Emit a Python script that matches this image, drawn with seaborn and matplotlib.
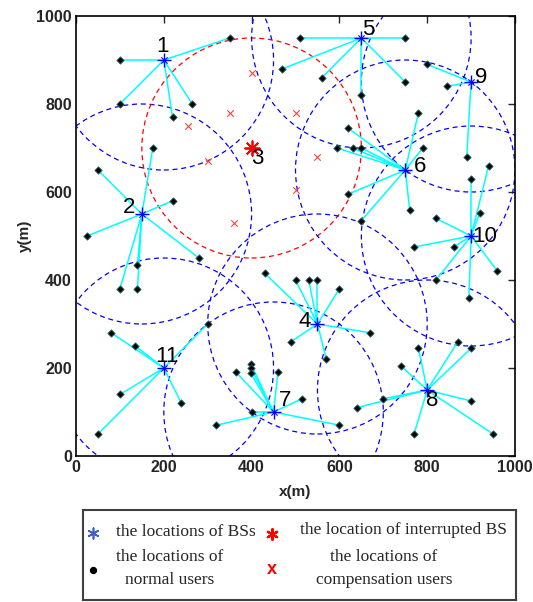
import numpy as np
import pandas as pd
import matplotlib
matplotlib.use('Agg')
import matplotlib.pyplot as plt
import matplotlib.patches as patches
import seaborn as sns

# estações base (BS 3 é a interrompida)
bs_id = [1, 2, 3, 4, 5, 6, 7, 8, 9, 10, 11]
bs_x = [200, 150, 400, 550, 650, 750, 450, 800, 900, 900, 200]
bs_y = [900, 550, 700, 300, 950, 650, 100, 150, 850, 500, 200]
bs_interrompida = 3
raio = 250

# usuários normais e a BS que os atende
user_bs = [1]*5 + [2]*8 + [4]*8 + [5]*6 + [6]*9 + [7]*9 + [8]*9 + [9]*3 + [10]*9 + [11]*6
user_x = [100, 100, 220, 265, 350,
          175, 50, 220, 25, 140, 100, 140, 280,
          430, 500, 530, 550, 600, 490, 570, 670,
          510, 750, 470, 560, 750, 650,
          620, 595, 630, 650, 780, 790, 620, 650, 760,
          398, 398, 398, 365, 460, 515, 400, 320, 600,
          780, 740, 870, 900, 900, 950, 770, 700, 640,
          800, 845, 890,
          770, 860, 960, 895, 820, 940, 900, 920, 820,
          80, 135, 100, 50, 240, 300]
user_y = [900, 800, 770, 800, 950,
          700, 650, 580, 500, 435, 380, 380, 450,
          415, 400, 400, 400, 380, 260, 220, 280,
          950, 950, 880, 860, 850, 820,
          745, 700, 700, 700, 780, 700, 595, 535, 560,
          210, 200, 188, 190, 190, 130, 100, 70, 70,
          245, 205, 260, 245, 125, 50, 50, 130, 110,
          890, 840, 680,
          475, 475, 420, 360, 400, 660, 630, 552, 540,
          280, 250, 140, 50, 120, 300]

# usuários de compensação
comp_x = [400, 350, 255, 300, 360, 500, 550, 500]
comp_y = [870, 780, 750, 670, 530, 780, 680, 605]

bs = pd.DataFrame({"id": bs_id, "x": bs_x, "y": bs_y})
users = pd.DataFrame({"bs": user_bs, "x": user_x, "y": user_y})
users = users.merge(bs.rename(columns={"id": "bs", "x": "bx", "y": "by"}), on="bs")

sns.set_style("white")
plt.rcParams['font.family'] = ['Liberation Sans', 'DejaVu Sans']

fig = plt.figure(figsize=(5.33, 6.02), dpi=100)
ax = fig.add_axes([76/533, 1 - 456/602, 439/533, 440/602])

dash = (0, (4, 3))
for _, b in bs.iterrows():
    cor = 'red' if b["id"] == bs_interrompida else 'blue'
    ax.add_patch(patches.Circle((b["x"], b["y"]), raio, fill=False, edgecolor=cor,
                                linestyle=dash, linewidth=0.9, zorder=1))

for _, u in users.iterrows():
    ax.plot([u["bx"], u["x"]], [u["by"], u["y"]], color='cyan', lw=1.1, zorder=2)

sns.scatterplot(data=users, x="x", y="y", marker='D', s=14, color='black',
                edgecolor='#2a6a6a', linewidth=0.6, ax=ax, zorder=4)
sns.scatterplot(x=comp_x, y=comp_y, marker='x', s=22, color='#ff4040',
                linewidth=0.8, ax=ax, zorder=4)

normais = bs[bs["id"] != bs_interrompida]
ax.scatter(normais["x"], normais["y"], marker='+', s=90, color='blue', linewidth=1, zorder=5)
ax.scatter(normais["x"], normais["y"], marker='x', s=20, color='blue', linewidth=0.8, zorder=5)
caida = bs[bs["id"] == bs_interrompida]
ax.scatter(caida["x"], caida["y"], marker=(8, 2, 0), s=110, color='red', linewidth=1.3, zorder=5)

# rótulos das BSs
desloc = {1: (-2, 30), 2: (-29, 14), 3: (12, -25), 4: (-28, 5), 5: (15, 20), 6: (34, 9),
          7: (26, 25), 8: (11, -25), 9: (23, 11), 10: (32, -2), 11: (7, 27)}
for _, b in bs.iterrows():
    dx, dy = desloc[b["id"]]
    ax.text(b["x"] + dx, b["y"] + dy, str(b["id"]), fontsize=16, ha='center', va='center',
            color='black', zorder=6)

ax.set_xlim(0, 1000)
ax.set_ylim(0, 1000)
ticks = [0, 200, 400, 600, 800, 1000]
ax.set_xticks(ticks)
ax.set_yticks(ticks)
ax.tick_params(direction='in', top=True, right=True, length=5, width=1, pad=3)
for lab in ax.get_xticklabels() + ax.get_yticklabels():
    lab.set_fontweight('bold')
    lab.set_fontsize(11.5)
for s in ax.spines.values():
    s.set_color('black')
    s.set_linewidth(1.2)
ax.set_xlabel("x(m)", fontsize=11, fontweight='bold', labelpad=7)
ax.set_ylabel("y(m)", fontsize=11, fontweight='bold', labelpad=3)

# legenda em caixa separada (coordenadas em pixels)
lg = fig.add_axes([83/533, 1 - 600/602, 433/533, 90/602])
lg.set_xlim(0, 433)
lg.set_ylim(90, 0)
lg.set_xticks([])
lg.set_yticks([])
for s in lg.spines.values():
    s.set_color('#404040')
    s.set_linewidth(1.5)
serif = ['Liberation Serif', 'DejaVu Serif']
fs = 12.5
lg.scatter([10], [23], marker=(6, 2, 0), s=60, color='#4060c8', linewidth=1.2)
lg.scatter([189], [24], marker=(6, 2, 0), s=60, color='red', linewidth=1.6)
lg.scatter([10], [60], marker='o', s=18, color='black')
lg.text(189, 60, 'x', color='red', fontsize=13, fontweight='bold', ha='center', va='center')
lg.text(103, 22, 'the locations of BSs', fontsize=fs, family=serif, ha='center', va='center')
lg.text(320, 20, 'the location of interrupted BS', fontsize=fs, family=serif, ha='center', va='center')
lg.text(87, 47, 'the locations of', fontsize=fs, family=serif, ha='center', va='center')
lg.text(87, 70, 'normal users', fontsize=fs, family=serif, ha='center', va='center')
lg.text(301, 47, 'the locations of', fontsize=fs, family=serif, ha='center', va='center')
lg.text(301, 70, 'compensation users', fontsize=fs, family=serif, ha='center', va='center')

fig.savefig("out.png", dpi=100)
